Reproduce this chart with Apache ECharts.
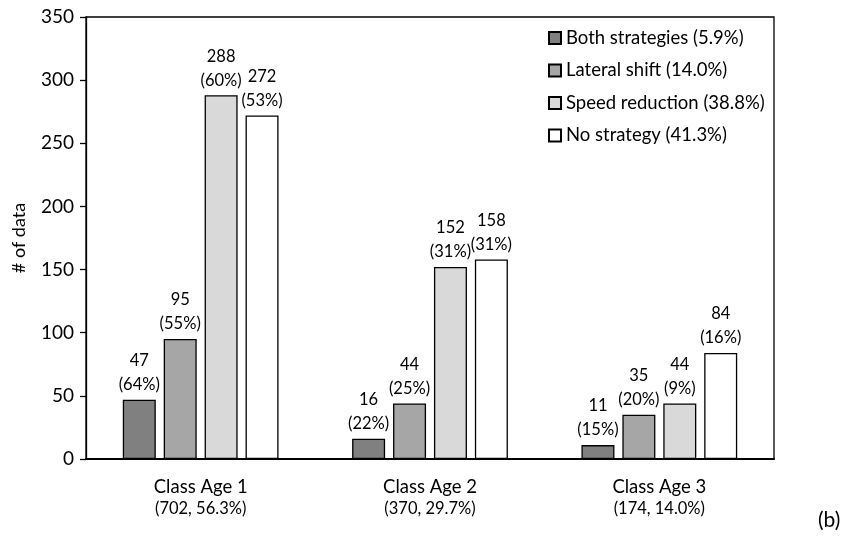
<!DOCTYPE html>
<html>
<head>
<meta charset="utf-8">
<script src="https://cdn.jsdelivr.net/npm/echarts@6/dist/echarts.min.js"></script>
<style>
  html, body { margin: 0; padding: 0; background: #fff; }
  #chart { width: 844px; height: 537px; }
</style>
</head>
<body>
<div id="chart"></div>
<script>
// class groups on the x axis
const classNames = ['Class Age 1', 'Class Age 2', 'Class Age 3']
const classTotals = ['(702, 56.3%)', '(370, 29.7%)', '(174, 14.0%)']

// one entry per strategy
const seriesNames = ['Both strategies (5.9%)', 'Lateral shift (14.0%)', 'Speed reduction (38.8%)', 'No strategy (41.3%)']
const seriesColors = ['#808080', '#a6a6a6', '#d9d9d9', '#ffffff']
const bothValues = [47, 16, 11]
const bothShares = ['64%', '22%', '15%']
const lateralValues = [95, 44, 35]
const lateralShares = ['55%', '25%', '20%']
const speedValues = [288, 152, 44]
const speedShares = ['60%', '31%', '9%']
const noneValues = [272, 158, 84]
const noneShares = ['53%', '31%', '16%']

const yTicks = [0, 50, 100, 150, 200, 250, 300, 350]

const FONT = 'Lato, "Open Sans", sans-serif'

const chart = echarts.init(document.getElementById('chart'))

function makeSeries(i, values, shares) {
  return {
    name: seriesNames[i],
    type: 'bar',
    barWidth: 33,
    barGap: '24%',
    data: values,
    itemStyle: { color: seriesColors[i], borderColor: '#000', borderWidth: 1.3 },
    label: {
      show: true,
      position: 'top',
      distance: 3,
      color: '#000',
      fontFamily: FONT,
      fontSize: 16.5,
      lineHeight: 24,
      formatter: p => `${p.value}\n(${shares[p.dataIndex]})`
    }
  }
}

chart.setOption({
  animation: false,
  backgroundColor: '#fff',
  grid: {
    left: 86, right: 70, top: 17, bottom: 78,
    show: true, borderColor: '#000', borderWidth: 1.3
  },
  legend: {
    orient: 'vertical',
    left: 543,
    top: 23,
    itemWidth: 12,
    itemHeight: 12,
    itemGap: 12.5,
    icon: 'rect',
    textStyle: { fontFamily: FONT, fontSize: 18.5, lineHeight: 20, color: '#000' },
    data: seriesNames
  },
  xAxis: {
    type: 'category',
    data: classNames,
    axisLine: { lineStyle: { color: '#000', width: 2 } },
    axisTick: { show: false },
    axisLabel: {
      margin: 17,
      formatter: (v, i) => `{a|${v}}\n{b|${classTotals[i]}}`,
      rich: {
        a: { fontFamily: FONT, fontSize: 18.5, color: '#000', lineHeight: 22 },
        b: { fontFamily: FONT, fontSize: 16.5, color: '#000', lineHeight: 22 }
      }
    }
  },
  yAxis: {
    type: 'value',
    min: yTicks[0],
    max: yTicks[yTicks.length - 1],
    interval: 50,
    name: '# of data',
    nameLocation: 'middle',
    nameGap: 58,
    nameTextStyle: { fontFamily: FONT, fontSize: 18, color: '#000' },
    splitLine: { show: false },
    axisLine: { show: true, lineStyle: { color: '#000', width: 1.3 } },
    axisTick: { show: true, length: 6, lineStyle: { color: '#000', width: 1.3 } },
    axisLabel: { fontFamily: FONT, fontSize: 19, color: '#000', margin: 12 }
  },
  graphic: [{
    type: 'text',
    left: 818,
    top: 510,
    style: { text: '(b)', fontFamily: FONT, fontSize: 21, fill: '#000' }
  }],
  series: [
    makeSeries(0, bothValues, bothShares),
    makeSeries(1, lateralValues, lateralShares),
    makeSeries(2, speedValues, speedShares),
    makeSeries(3, noneValues, noneShares)
  ]
})

window.addEventListener('resize', () => chart.resize())
</script>
</body>
</html>
